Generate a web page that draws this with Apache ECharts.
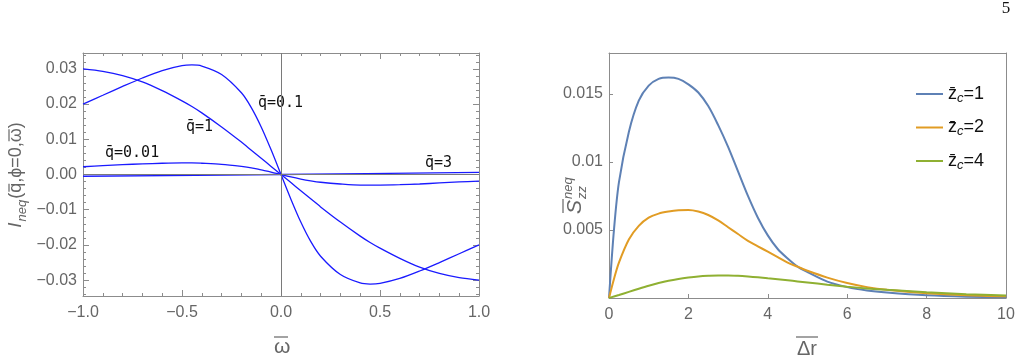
<!DOCTYPE html>
<html>
<head>
<meta charset="utf-8">
<script src="https://cdn.jsdelivr.net/npm/echarts@6/dist/echarts.min.js"></script>
<style>
html, body { margin: 0; padding: 0; background: #fff; }
#chart { width: 1022px; height: 363px; }
</style>
</head>
<body>
<div id="chart"></div>
<script>
// left panel: I_neq(q, phi=0, omega) against omega
var omega = [-1, -0.9, -0.8, -0.7, -0.6, -0.5, -0.45, -0.4, -0.3, -0.2, -0.15, -0.1, -0.05, 0,
             0.05, 0.1, 0.15, 0.2, 0.3, 0.4, 0.45, 0.5, 0.6, 0.7, 0.8, 0.9, 1];
var iq001 = [0.0022, 0.0025, 0.0028, 0.0030, 0.0032, 0.0033, 0.0033, 0.0032, 0.0029, 0.0023, 0.0019, 0.0013, 0.0007, 0,
             -0.0007, -0.0013, -0.0018, -0.0022, -0.0027, -0.0030, -0.0030, -0.0030, -0.0029, -0.0027, -0.0024, -0.0021, -0.0019];
var iq01 = [0.0200, 0.0225, 0.0250, 0.0274, 0.0295, 0.0309, 0.0311, 0.0308, 0.0284, 0.0232, 0.0190, 0.0135, 0.0070, 0,
            -0.0070, -0.0135, -0.0190, -0.0232, -0.0284, -0.0308, -0.0311, -0.0309, -0.0295, -0.0274, -0.0250, -0.0225, -0.0200];
var iq1 = [0.0300, 0.0293, 0.0281, 0.0263, 0.0238, 0.0209, 0.0193, 0.0175, 0.0135, 0.0092, 0.0069, 0.0046, 0.0023, 0,
           -0.0023, -0.0046, -0.0069, -0.0092, -0.0135, -0.0175, -0.0193, -0.0209, -0.0238, -0.0263, -0.0281, -0.0293, -0.0300];
var omega3 = [-1, 0, 1];
var iq3 = [-0.0005, 0, 0.0006];
var qNames = ['0.01', '0.1', '1', '3'];

// right panel: S_zz^neq against delta r
var dr = [0, 0.125, 0.25, 0.5, 0.75, 1, 1.25, 1.5, 1.75, 2, 2.25, 2.5, 2.75, 3, 3.25, 3.5, 3.75, 4,
          4.25, 4.5, 4.75, 5, 5.5, 6, 6.5, 7, 8, 9, 10];
var szz1 = [0, 0.0050, 0.0085, 0.0122, 0.0145, 0.0156, 0.0161, 0.0162, 0.0161, 0.0157, 0.0151, 0.0141, 0.0127,
            0.0111, 0.0093, 0.0075, 0.0059, 0.0046, 0.0036, 0.0029, 0.0023, 0.0019, 0.0012, 0.0008, 0.00055,
            0.0004, 0.0002, 0.0001, 0.00006];
var szz2 = [0, 0.0014, 0.0026, 0.0043, 0.0053, 0.0059, 0.0062, 0.00635, 0.00644, 0.00646, 0.00635, 0.0061, 0.0057,
            0.0052, 0.0047, 0.0042, 0.0038, 0.0034, 0.0030, 0.0026, 0.0023, 0.0020, 0.0015, 0.0011, 0.0008,
            0.0006, 0.00035, 0.0002, 0.00012];
var szz4 = [0, 0.00011, 0.00022, 0.00045, 0.00068, 0.0009, 0.0011, 0.00127, 0.0014, 0.0015, 0.00158, 0.00163, 0.00166,
            0.00166, 0.00163, 0.00158, 0.00152, 0.00145, 0.00138, 0.0013, 0.00122, 0.00114, 0.00098, 0.00083, 0.0007,
            0.0006, 0.00042, 0.00028, 0.00018];
var zcNames = ['1', '2', '4'];
var zcColors = ['#5e81b5', '#e19c24', '#8fb032'];

function pairs(xs, ys) {
    return xs.map(function (x, i) { return [x, ys[i]]; });
}

var frameColor = '#8c8c8c';
var labelColor = '#666';
var labelFont = 'Liberation Sans';

function minus(s) { return s.replace('-', '\u2212'); }

// text widths, to put the overbars over the right letters
var ctx = document.createElement('canvas').getContext('2d');
function tw(s, size, style) {
    ctx.font = (style || 'normal') + ' ' + size + 'px "' + labelFont + '"';
    return ctx.measureText(s).width;
}

function frameAxis(grid, pos, opts) {
    var a = {
        type: 'value',
        gridIndex: grid,
        position: pos,
        axisLine: { show: true, onZero: false, lineStyle: { color: frameColor, width: 1 } },
        axisTick: { show: false },
        axisLabel: { show: false },
        splitLine: { show: false }
    };
    for (var k in opts) a[k] = opts[k];
    return a;
}

var leftX = {
    min: -1, max: 1, interval: 0.5,
    axisTick: { show: true, inside: true, length: 6, lineStyle: { color: frameColor } },
    minorTick: { show: true, splitNumber: 5, length: 3, lineStyle: { color: frameColor } }
};
var leftY = {
    min: -0.0345, max: 0.0345, splitNumber: 7,
    axisTick: { show: true, inside: true, length: 6, lineStyle: { color: frameColor } },
    minorTick: { show: true, splitNumber: 5, length: 3, lineStyle: { color: frameColor } }
};

var chart = echarts.init(document.getElementById('chart'));

var series = [];
[iq001, iq01, iq1].forEach(function (ys, i) {
    series.push({
        name: 'q' + qNames[i], type: 'line', xAxisIndex: 0, yAxisIndex: 0,
        data: pairs(omega, ys), smooth: 0.3, symbol: 'none',
        lineStyle: { color: '#1a1aff', width: 1.3 }
    });
});
series.push({
    name: 'q' + qNames[3], type: 'line', xAxisIndex: 0, yAxisIndex: 0,
    data: pairs(omega3, iq3), smooth: 0.3, symbol: 'none',
    lineStyle: { color: '#1a1aff', width: 1.3 },
    z: 1,
    markLine: {
        silent: true, symbol: 'none', label: { show: false },
        lineStyle: { color: '#7a7a7a', width: 1, type: 'solid' },
        data: [{ xAxis: 0 }, { yAxis: 0 }]
    }
});
[szz1, szz2, szz4].forEach(function (ys, i) {
    series.push({
        name: 'zc=' + zcNames[i], type: 'line', xAxisIndex: 2, yAxisIndex: 2,
        data: pairs(dr, ys), smooth: 0.3, symbol: 'none',
        color: zcColors[i],
        lineStyle: { color: zcColors[i], width: 2 }
    });
});

var qLabelStyle = { fontFamily: 'DejaVu Sans Mono', fontSize: 15, fill: '#111', verticalAlign: 'middle' };
function qLabel(x, y, name) {
    return { type: 'text', x: x, y: y, style: Object.assign({ text: 'q\u0304=' + name }, qLabelStyle) };
}
function txt(text, x, y, size, italic) {
    return {
        type: 'text', x: x, y: y,
        style: { text: text, fontSize: size, fontFamily: labelFont, fontStyle: italic ? 'italic' : 'normal', fill: labelColor, verticalAlign: 'middle' }
    };
}
function bar(x1, x2, y) {
    return { type: 'line', shape: { x1: x1, y1: y, x2: x2, y2: y }, style: { stroke: labelColor, lineWidth: 1.2 } };
}

// y name of the left panel, laid out along its own baseline then turned upward
var yMain = '(q,\u03D5=0,\u03C9)';
var xNeq = tw('I', 19, 'italic') + 1;
var xMain = xNeq + tw('neq', 13, 'italic') + 1;
var yLen = xMain + tw(yMain, 18);
var qA = xMain + tw('(', 18), qB = xMain + tw('(q', 18);
var wA = xMain + tw('(q,\u03D5=0,', 18), wB = xMain + tw('(q,\u03D5=0,\u03C9', 18);

var option = {
    animation: false,
    backgroundColor: '#fff',
    grid: [
        { left: 83, top: 53, width: 396, height: 243 },
        { left: 609, top: 53, width: 397, height: 245 }
    ],
    xAxis: [
        frameAxis(0, 'bottom', Object.assign({}, leftX, {
            axisLabel: {
                show: true, margin: 9, color: labelColor, fontSize: 16, fontFamily: labelFont,
                formatter: function (v) { return minus(v.toFixed(1)); }
            }
        })),
        frameAxis(0, 'top', leftX),
        frameAxis(1, 'bottom', {
            min: 0, max: 10, interval: 2,
            axisTick: { show: true, inside: true, length: 4, lineStyle: { color: frameColor } },
            axisLabel: { show: true, margin: 9, color: labelColor, fontSize: 16, fontFamily: labelFont }
        }),
        frameAxis(1, 'top', { min: 0, max: 10, interval: 2 })
    ],
    yAxis: [
        frameAxis(0, 'left', Object.assign({}, leftY, {
            axisLabel: {
                show: true, margin: 6, color: labelColor, fontSize: 16, fontFamily: labelFont,
                showMinLabel: false, showMaxLabel: false,
                formatter: function (v) { return minus(v.toFixed(2)); }
            }
        })),
        frameAxis(0, 'right', leftY),
        frameAxis(1, 'left', {
            min: 0, max: 0.018, interval: 0.005,
            axisTick: { show: true, inside: true, length: 4, lineStyle: { color: frameColor } },
            axisLabel: {
                show: true, margin: 6, color: labelColor, fontSize: 16, fontFamily: labelFont,
                showMaxLabel: false,
                formatter: function (v) { return v === 0 ? '' : String(+v.toFixed(4)); }
            }
        }),
        frameAxis(1, 'right', { min: 0, max: 0.018, interval: 0.005 })
    ],
    legend: {
        data: series.slice(4).map(function (s) { return s.name; }),
        orient: 'vertical',
        left: 911, top: 80,
        itemWidth: 27, itemHeight: 14, itemGap: 14,
        icon: 'path://M0,6 L27,6 L27,8 L0,8 Z',
        textStyle: {
            rich: {
                a: { fontSize: 18, fontFamily: labelFont, color: '#111' },
                b: { fontSize: 13, fontFamily: labelFont, fontStyle: 'italic', color: '#111', padding: [8, 0, 0, 0] }
            }
        },
        formatter: function (name) {
            return '{a|z\u0304}{b|c}{a|=' + name.split('=')[1] + '}';
        }
    },
    graphic: [
        qLabel(258, 103, qNames[1]),
        qLabel(186, 127, qNames[2]),
        qLabel(105, 153, qNames[0]),
        qLabel(425, 163, qNames[3]),
        {
            type: 'group', x: 16, y: 175 + yLen / 2, rotation: Math.PI / 2,
            children: [
                txt('I', 0, 0, 19, true),
                txt('neq', xNeq, 6, 13, true),
                txt(yMain, xMain, 0, 18, false),
                bar(qA + 1, qB - 1, -7),
                bar(wA + 1, wB - 1, -7)
            ]
        },
        {
            type: 'group', x: 281, y: 347,
            children: [
                txt('\u03C9', -7, 0, 21, false),
                bar(-7, 7, -10)
            ]
        },
        {
            type: 'group', x: 807, y: 349,
            children: [
                { type: 'text', x: 0, y: 0, style: { text: '\u0394r', fontSize: 20, fontFamily: labelFont, fill: labelColor, align: 'center', verticalAlign: 'middle' } },
                bar(-11, 11, -12)
            ]
        },
        {
            type: 'group', x: 575, y: 214, rotation: Math.PI / 2,
            children: [
                txt('S', 0, 0, 21, true),
                bar(1, 15, -12),
                txt('neq', 15, -7, 13, true),
                txt('zz', 15, 7, 13, true)
            ]
        },
        {
            type: 'text', x: 1006, y: 9,
            style: { text: '5', fontSize: 17, fontFamily: 'Liberation Serif', fill: '#111', align: 'center', verticalAlign: 'middle' }
        }
    ],
    series: series
};

chart.setOption(option);
</script>
</body>
</html>
